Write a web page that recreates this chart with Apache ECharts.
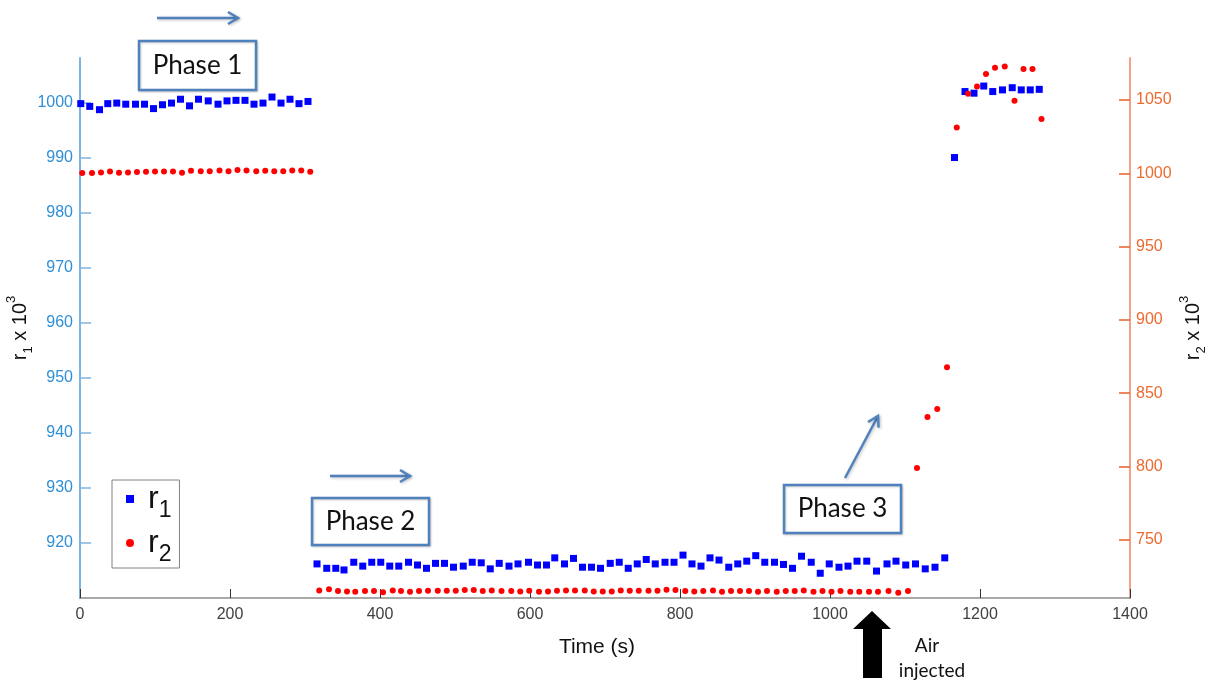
<!DOCTYPE html>
<html>
<head>
<meta charset="utf-8">
<title>r1 and r2 versus time</title>
<script src="https://cdn.jsdelivr.net/npm/echarts@6/dist/echarts.min.js"></script>
<style>
  html, body { margin: 0; padding: 0; background: #ffffff; }
  #chart { width: 1211px; height: 681px; }
</style>
</head>
<body>
<div id="chart"></div>
<script>
// ---- Measured data -------------------------------------------------------
// r1 (left axis, x 10^3) sampling times in seconds
const r1Time = [
  1, 13, 26, 37, 49, 61, 74, 86, 98, 110, 122, 134, 146, 158, 171, 184, 196, 208, 220, 232, 244, 256, 268, 280, 292, 304,
  316, 329, 341, 352, 365, 377, 389, 401, 413, 425, 438, 450, 462, 474, 486, 498, 511, 523, 535, 547,
  559, 572, 584, 598, 610, 622, 633, 646, 658, 670, 682, 694, 707, 719, 731, 743, 755, 767, 780, 792,
  804, 816, 828, 840, 852, 865, 877, 889, 901, 913, 926, 938, 950, 962, 975, 987, 999, 1012, 1024, 1036,
  1049, 1062, 1076, 1088, 1101, 1114, 1127, 1140, 1153,
  1166, 1180, 1192, 1205, 1217, 1230, 1243, 1255, 1267, 1279
];
const r1Value = [
  999.9, 999.4, 998.8, 999.9, 1000.0, 999.8, 999.8, 999.8, 999.0, 999.7, 1000.0, 1000.7, 999.5, 1000.7, 1000.4, 999.8,
  1000.4, 1000.5, 1000.5, 999.8, 1000.0, 1001.1, 1000.0, 1000.7, 999.9, 1000.3,
  916.2, 915.4, 915.4, 915.1, 916.5, 915.8, 916.5, 916.5, 915.8, 915.8, 916.5, 916.0, 915.4, 916.3, 916.3, 915.6,
  915.8, 916.5, 916.4, 915.3, 916.3, 915.8, 916.2, 916.5, 916.0, 916.0, 917.3, 916.2, 917.2, 915.6, 915.6, 915.4,
  916.3, 916.5, 915.4, 916.2, 917.0, 916.2, 916.5, 916.5, 917.8, 916.2, 915.8,
  917.3, 916.9, 915.6, 916.2, 916.7, 917.7, 916.5, 916.5, 916.1, 915.4, 917.6, 916.5, 914.5, 916.2, 915.6, 915.8,
  916.7, 916.7, 914.9, 916.2, 916.7, 916.0, 916.2, 915.3, 915.6, 917.3,
  990.1, 1002.1, 1001.8, 1003.1, 1002.1, 1002.4, 1002.8, 1002.4, 1002.4, 1002.5
];

// r2 (right axis, x 10^3) sampling times in seconds
const r2Time = [
  3, 16, 28, 40, 52, 64, 76, 88, 100, 112, 124, 136, 148, 161, 173, 186, 198, 210, 222, 235, 247, 259, 271, 283, 295, 307,
  319, 332, 344, 356, 367, 380, 392, 404, 417, 428, 440, 452, 464, 477, 489, 501, 513, 525, 537, 549,
  562, 575, 587, 599, 612, 624, 636, 648, 660, 673, 685, 697, 709, 721, 733, 745, 758, 770, 782, 794, 807, 819,
  831, 844, 856, 868, 880, 892, 904, 916, 929, 941, 953, 965, 978, 990, 1002, 1014, 1027, 1039, 1052, 1064,
  1078, 1091, 1104,
  1116, 1130, 1143, 1156, 1169, 1184, 1196, 1208, 1220, 1233, 1246, 1258, 1270, 1282
];
const r2Value = [
  1000.2, 1000.2, 1000.6, 1001.3, 1000.4, 1000.6, 1000.9, 1001.1, 1001.3, 1001.3, 1001.3, 1000.4, 1001.8, 1001.5,
  1001.5, 1002.0, 1001.5, 1002.2, 1002.0, 1001.5, 1001.8, 1001.5, 1001.5, 1002.0, 1002.0, 1001.1,
  715.4, 716.1, 714.9, 714.7, 714.5, 714.9, 714.9, 714.2, 715.4, 714.9, 714.5, 714.9, 715.1, 715.1, 715.1, 715.1,
  715.6, 715.6, 714.9, 715.4, 714.9, 714.9, 714.7, 715.1, 714.5, 714.7, 715.1, 715.4, 715.4, 715.4, 714.7, 714.7,
  714.7, 715.4, 715.1, 715.1, 715.1, 715.1, 715.8, 715.6, 714.9, 714.7,
  714.9, 715.4, 714.5, 714.9, 714.9, 714.9, 714.5, 714.9, 714.5, 714.9, 714.9, 715.4, 714.5, 714.9, 714.5, 714.9,
  714.5, 714.5, 714.5, 714.5, 714.9, 713.8, 714.9,
  798.9, 833.7, 839.2, 867.6, 1031.3, 1054.3, 1059.3, 1067.7, 1072.0, 1072.9, 1049.5, 1071.2, 1071.2, 1037.0
];

// Tick labels
const timeTicks = [0, 200, 400, 600, 800, 1000, 1200, 1400];
const r1Ticks = [920, 930, 940, 950, 960, 970, 980, 990, 1000];
const r2Ticks = [750, 800, 850, 900, 950, 1000, 1050];

// Axis ranges
const timeRange = [0, 1400];
const r1Range = [910, 1008.2];
const r2Range = [710.2, 1078.7];

// ---- Styling ---------------------------------------------------------------
const AX_FONT = '"Liberation Sans", Arial, sans-serif';
const NOTE_FONT = 'Lato, "Open Sans", sans-serif';
const NOTE_BLUE = '#4f81bd';
const plain = (v) => String(v);

const zip = (xs, ys) => xs.map((x, i) => [x, ys[i]]);

const nameRich = {
  a: { fontSize: 20, lineHeight: 30, verticalAlign: 'middle', color: '#111', fontFamily: AX_FONT },
  s: { fontSize: 13, lineHeight: 13, verticalAlign: 'bottom', color: '#111', fontFamily: AX_FONT },
  p: { fontSize: 13, lineHeight: 13, verticalAlign: 'top', color: '#111', fontFamily: AX_FONT }
};

// Blue open-headed arrow from (x1,y1) to (x2,y2)
function arrow(x1, y1, x2, y2) {
  const dx = x2 - x1, dy = y2 - y1, len = Math.hypot(dx, dy);
  const ux = dx / len, uy = dy / len, nx = -uy, ny = ux;
  const back = 10, half = 6;
  const bx = x2 - ux * back, by = y2 - uy * back;
  const style = { stroke: NOTE_BLUE, lineWidth: 2.5, fill: null,
    shadowColor: 'rgba(0,0,0,0.25)', shadowBlur: 3, shadowOffsetX: 1, shadowOffsetY: 1 };
  return [
    { type: 'polyline', shape: { points: [[x1, y1], [x2, y2]] }, style },
    { type: 'polyline', shape: { points: [[bx + nx * half, by + ny * half], [x2, y2], [bx - nx * half, by - ny * half]] }, style }
  ];
}

function phaseBox(x, y, w, h, label) {
  return [
    { type: 'rect', shape: { x, y, width: w, height: h },
      style: { fill: '#fff', stroke: NOTE_BLUE, lineWidth: 2.5,
        shadowColor: 'rgba(0,0,0,0.2)', shadowBlur: 2, shadowOffsetX: 1, shadowOffsetY: 1 } },
    { type: 'text', x: x + w / 2, y: y + h / 2,
      style: { text: label, font: '26px ' + NOTE_FONT, fill: '#111', align: 'center', verticalAlign: 'middle' } }
  ];
}

const chart = echarts.init(document.getElementById('chart'), null, { renderer: 'canvas' });

const option = {
  animation: false,
  backgroundColor: '#ffffff',
  grid: { left: 80, right: 81, top: 58, bottom: 83, containLabel: false, outerBoundsMode: 'none' },
  xAxis: {
    type: 'value',
    min: timeRange[0], max: timeRange[1], interval: 200,
    name: 'Time (s)', nameLocation: 'middle', nameGap: 39, nameMoveOverlap: false,
    nameTextStyle: { fontSize: 21, color: '#111', fontFamily: AX_FONT, padding: [0, 16, 0, 0] },
    axisLine: { show: true, lineStyle: { color: '#8c8c8c', width: 1.5 } },
    axisTick: { show: true, inside: true, length: 9, customValues: timeTicks, lineStyle: { color: '#333', width: 1 } },
    axisLabel: { customValues: timeTicks, formatter: plain, margin: 9, fontSize: 16, color: '#404040', fontFamily: AX_FONT },
    splitLine: { show: false }
  },
  yAxis: [
    {
      type: 'value', position: 'left',
      min: r1Range[0], max: r1Range[1],
      name: '{a|r}{s|1}{a| x 10}{p|3}', nameLocation: 'middle', nameRotate: 90, nameGap: 45, nameMoveOverlap: false,
      nameTextStyle: { rich: nameRich },
      axisLine: { show: true, lineStyle: { color: '#7fb4e0', width: 2 } },
      axisTick: { show: true, inside: true, length: 11, customValues: r1Ticks, lineStyle: { color: '#7fb4e0', width: 1.5 } },
      axisLabel: { customValues: r1Ticks, formatter: plain, margin: 7, fontSize: 16, color: '#2e8fd6', fontFamily: AX_FONT },
      splitLine: { show: false }
    },
    {
      type: 'value', position: 'right',
      min: r2Range[0], max: r2Range[1],
      name: '{a|r}{s|2}{a| x 10}{p|3}', nameLocation: 'middle', nameRotate: 90, nameGap: 48, nameMoveOverlap: false,
      nameTextStyle: { rich: nameRich },
      axisLine: { show: true, lineStyle: { color: '#f2a385', width: 2 } },
      axisTick: { show: true, inside: true, length: 11, customValues: r2Ticks, lineStyle: { color: '#e8602a', width: 1.5 } },
      axisLabel: { customValues: r2Ticks, formatter: plain, margin: 6, fontSize: 16, color: '#ec6a2f', fontFamily: AX_FONT },
      splitLine: { show: false }
    }
  ],
  legend: {
    orient: 'vertical', left: 112, top: 480,
    padding: [3, 8, 2, 14], itemGap: 5,
    itemWidth: 8, itemHeight: 8,
    borderColor: '#808080', borderWidth: 1,
    data: [{ name: 'r1', icon: 'rect' }, { name: 'r2', icon: 'circle' }],
    formatter: (n) => '{r|r}{s|' + n.slice(1) + '}',
    textStyle: {
      padding: [0, 0, 0, 9],
      rich: {
        r: { fontSize: 32, lineHeight: 46, verticalAlign: 'middle', color: '#111', fontFamily: AX_FONT },
        s: { fontSize: 23, lineHeight: 23, verticalAlign: 'bottom', color: '#111', fontFamily: AX_FONT }
      }
    }
  },
  series: [
    {
      name: 'r1', type: 'scatter', yAxisIndex: 0,
      symbol: 'rect', symbolSize: 7,
      itemStyle: { color: '#0000ff', opacity: 1 },
      data: zip(r1Time, r1Value)
    },
    {
      name: 'r2', type: 'scatter', yAxisIndex: 1,
      symbol: 'circle', symbolSize: 6,
      itemStyle: { color: '#ff0000', opacity: 1 },
      data: zip(r2Time, r2Value)
    }
  ],
  graphic: [
    ...phaseBox(139, 41, 117, 49, 'Phase 1'),
    ...phaseBox(312, 498, 117, 47, 'Phase 2'),
    ...phaseBox(784, 485, 117, 48, 'Phase 3'),
    ...arrow(157, 18, 238, 18),
    ...arrow(330, 476, 410, 476),
    ...arrow(845, 478, 878, 416),
    // thick black arrow marking the air injection
    { type: 'polygon',
      shape: { points: [[863, 678], [863, 629], [853, 629], [872, 611], [891, 629], [882, 629], [882, 678]] },
      style: { fill: '#000' } },
    { type: 'text', x: 927, y: 646,
      style: { text: 'Air', font: '19px ' + NOTE_FONT, fill: '#111', align: 'center', verticalAlign: 'middle' } },
    { type: 'text', x: 932, y: 671,
      style: { text: 'injected', font: '19px ' + NOTE_FONT, fill: '#111', align: 'center', verticalAlign: 'middle' } }
  ]
};

chart.setOption(option);
</script>
</body>
</html>
